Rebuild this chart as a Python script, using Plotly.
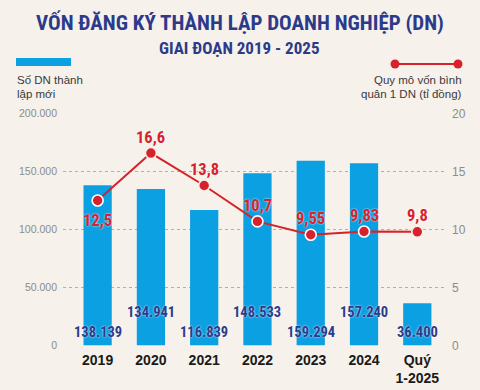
import plotly.graph_objects as go

categories = ["2019", "2020", "2021", "2022", "2023", "2024", "Quý<br>1-2025"]
so_dn = [138139, 134941, 116839, 148533, 159294, 157240, 36400]
von_bq = [12.5, 16.6, 13.8, 10.7, 9.55, 9.83, 9.8]
left_ticks = [0, 50000, 100000, 150000, 200000]
right_ticks = [0, 5, 10, 15, 20]

BG = "#f6f1ea"
BLUE = "#0aa0e2"
RED = "#d7222c"
NAVY = "#2c3a8a"
GRID = "#b5afa6"
COND = "Roboto Condensed, DejaVu Sans Condensed, sans-serif"
SANS = "Liberation Sans, Arial, sans-serif"

# plot area in pixels
X0, X1, YT, YB = 63, 445, 113, 346
def px(x):
    return (x - X0) / (X1 - X0)
def py(y):
    return (YB - y) / (YB - YT)

def fmt_int(v):
    return f"{v:,}".replace(",", ".")
def fmt_dec(v):
    return f"{v:g}".replace(".", ",")

idx = list(range(len(categories)))

fig = go.Figure()
fig.add_trace(go.Bar(
    x=idx, y=so_dn, width=0.53,
    marker=dict(color=BLUE, line=dict(width=0)),
    hoverinfo="skip", showlegend=False,
))

# marker outlines white where point sits on a bar
outline = ["white" if v * 10000 < b else BG for v, b in zip(von_bq, so_dn)]
fig.add_trace(go.Scatter(
    x=idx, y=von_bq, yaxis="y2",
    mode="lines+markers",
    line=dict(color=RED, width=2),
    marker=dict(color=RED, size=11, line=dict(color=outline, width=1.6)),
    hoverinfo="skip", showlegend=False, cliponaxis=False,
))

annotations = []
for i, v in zip(idx, so_dn):
    annotations.append(dict(
        x=i, y=0, xref="x", yref="y", text=fmt_int(v), showarrow=False,
        yshift=13 if i % 2 == 0 else 33, yanchor="middle",
        font=dict(family=COND, size=14.5, color=NAVY, weight="bold",
                  shadow="0px 0px 2px white"),
    ))
for i, v in zip(idx, von_bq):
    annotations.append(dict(
        x=i, y=v, xref="x", yref="y2", text=fmt_dec(v), showarrow=False,
        yshift=-20 if i == 0 else 16, yanchor="middle",
        font=dict(family=COND, size=16.5, color=RED, weight="bold",
                  shadow="0px 0px 2px white"),
    ))

# titles
annotations.append(dict(
    x=px(240), y=py(23), xref="paper", yref="paper",
    text="VỐN ĐĂNG KÝ THÀNH LẬP DOANH NGHIỆP (DN)",
    showarrow=False, xanchor="center", yanchor="middle",
    font=dict(family=COND, size=21, color=NAVY, weight="bold")))
annotations.append(dict(
    x=px(239), y=py(48), xref="paper", yref="paper", text="GIAI ĐOẠN 2019 - 2025",
    showarrow=False, xanchor="center", yanchor="middle",
    font=dict(family=COND, size=17, color=NAVY, weight="bold")))

# legend texts
leg_font = dict(family=SANS, size=11.5, color="#3a3a3a")
for txt, yy in [("Số DN thành", 80), ("lập mới", 94)]:
    annotations.append(dict(x=px(15), y=py(yy), xref="paper", yref="paper", text=txt,
                            showarrow=False, xanchor="left", yanchor="middle", font=leg_font))
for txt, yy in [("Quy mô vốn bình", 80), ("quân 1 DN (tỉ đồng)", 94)]:
    annotations.append(dict(x=px(464), y=py(yy), xref="paper", yref="paper", text=txt,
                            showarrow=False, xanchor="right", yanchor="middle", font=leg_font))

shapes = [
    dict(type="rect", xref="paper", yref="paper", x0=px(16), x1=px(71), y0=py(66), y1=py(58),
         fillcolor=BLUE, line=dict(width=0)),
    dict(type="line", xref="paper", yref="paper", x0=px(395), x1=px(458), y0=py(64), y1=py(64),
         line=dict(color=RED, width=2)),
]
for cx in (395, 458):
    shapes.append(dict(type="circle", xref="paper", yref="paper",
                       x0=px(cx - 4.5), x1=px(cx + 4.5), y0=py(64 + 4.5), y1=py(64 - 4.5),
                       fillcolor=RED, line=dict(width=0)))

fig.update_layout(
    width=480, height=390,
    margin=dict(l=X0, r=480 - X1, t=YT, b=390 - YB, pad=0),
    paper_bgcolor=BG, plot_bgcolor=BG,
    showlegend=False,
    xaxis=dict(
        range=[-0.65, 6.52], showgrid=False, zeroline=False, showline=False,
        tickvals=idx, ticktext=categories, automargin=False,
        tickfont=dict(family=SANS, size=14, color="#1a1a1a", weight="bold"),
        ticks="", ticklabelstandoff=4,
    ),
    yaxis=dict(
        range=[-600, 200600], tickvals=left_ticks, ticktext=[fmt_int(v) for v in left_ticks],
        showgrid=True, gridcolor=GRID, griddash="dot", gridwidth=1, automargin=False,
        zeroline=False, showline=False, ticks="",
        tickfont=dict(family=SANS, size=10.5, color="#8c8c8c"),
        ticklabelstandoff=5,
    ),
    yaxis2=dict(
        range=[-0.06, 20.06], overlaying="y", side="right", tickvals=right_ticks,
        showgrid=False, zeroline=False, showline=False, ticks="", automargin=False,
        tickfont=dict(family=SANS, size=12, color="#8c8c8c"),
        ticklabelstandoff=6,
    ),
    annotations=annotations,
    shapes=shapes,
)

fig.write_html(
    "out.html",
    config={"displayModeBar": False},
    post_script="document.body.style.margin='0';document.body.style.background='%s';" % BG,
)
